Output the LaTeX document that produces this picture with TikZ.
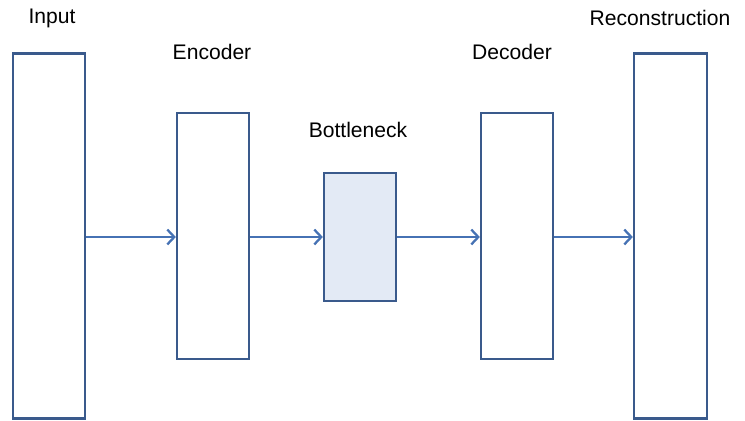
\documentclass[tikz,border=0pt]{standalone}
\usepackage{fontspec}
\setmainfont{Liberation Sans}
\usetikzlibrary{arrows.meta}
\definecolor{edgeblue}{HTML}{3A5A8C}
\definecolor{arrowblue}{HTML}{4672B4}
\definecolor{fillblue}{HTML}{E3EAF5}
\begin{document}
\begin{tikzpicture}[
    x=0.02cm, y=-0.02cm,
    layer/.style={rectangle, draw=edgeblue, line width=1.3pt, fill=white,
      minimum width=1.44cm, inner sep=0pt},
    label/.style={font=\fontsize{12}{14}\selectfont, inner sep=0pt},
    link/.style={->, arrowblue, line width=1.3pt},
    >={Straight Barb[length=4pt, width=8.5pt]}
  ]
  \useasboundingbox (0,0) rectangle (745,420);
  \node[layer, minimum height=7.3cm] (in) at (49,236) {};
  \node[layer, minimum height=4.92cm] (enc) at (213,236) {};
  \node[layer, minimum height=2.56cm, fill=fillblue] (bot) at (360,237) {};
  \node[layer, minimum height=4.92cm] (dec) at (517,236) {};
  \node[layer, minimum height=7.3cm, minimum width=1.46cm] (rec) at (670.5,236) {};
  \node[label] (lin) at (52,18) {Input};
  \node[label] (lenc) at (212,52) {Encoder};
  \node[label] (lbot) at (358,130) {Bottleneck};
  \node[label] (ldec) at (512,52) {Decoder};
  \node[label] (lrec) at (660,18) {Reconstruction};
  \draw[link] (in.east |- bot) -- (enc.west |- bot);
  \draw[link] (enc.east |- bot) -- (bot);
  \draw[link] (bot) -- (dec.west |- bot);
  \draw[link] (dec.east |- bot) -- (rec.west |- bot);
\end{tikzpicture}
\end{document}
